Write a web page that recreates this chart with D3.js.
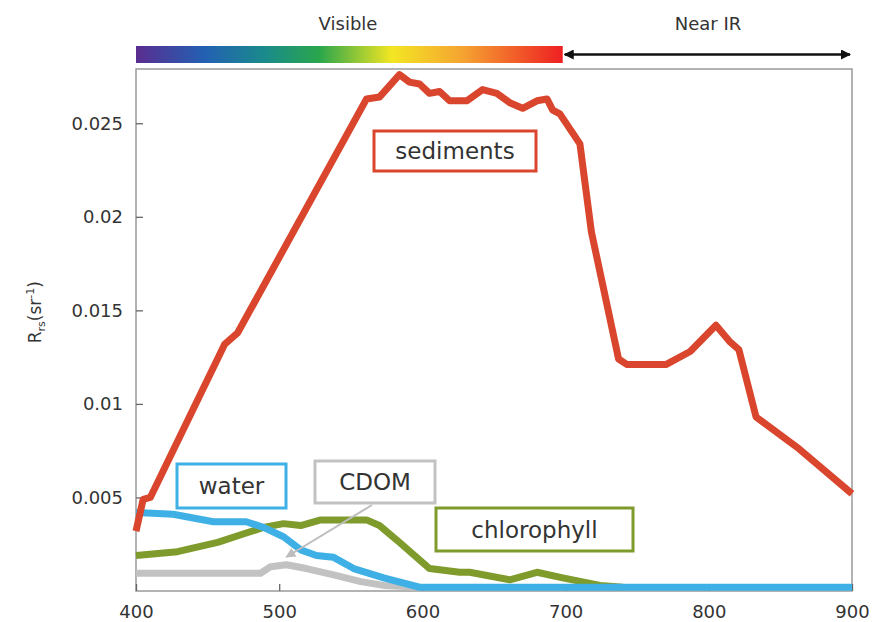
<!DOCTYPE html>
<html>
<head>
<meta charset="utf-8">
<script src="https://cdn.jsdelivr.net/npm/d3@7"></script>
<style>
  body { margin: 0; background: #fff; }
  svg text { font-family: "DejaVu Sans", sans-serif; fill: #333; }
</style>
</head>
<body>
<svg id="chart" width="874" height="622"></svg>
<script>
// Axis ticks
const xTicks = [400, 500, 600, 700, 800, 900];
const yTicks = [0.005, 0.01, 0.015, 0.02, 0.025];

// Sediments spectrum
const sedimentWl = [400, 405, 410, 462, 471, 561, 570, 584, 591, 598, 605, 612, 619, 631, 642, 652, 661, 670, 680, 687, 691, 696, 703, 710, 718, 737, 743, 770, 787, 805, 815, 821, 833, 863, 900];
const sedimentRrs = [0.0032, 0.0049, 0.0050, 0.0132, 0.0138, 0.0263, 0.0264, 0.0276, 0.0272, 0.0271, 0.0266, 0.0267, 0.0262, 0.0262, 0.0268, 0.0266, 0.0261, 0.0258, 0.0262, 0.0263, 0.0257, 0.0255, 0.0247, 0.0239, 0.0192, 0.0124, 0.0121, 0.0121, 0.0128, 0.0142, 0.0133, 0.0129, 0.0093, 0.0076, 0.0052];

// Pure water spectrum
const waterWl = [400, 426, 454, 477, 489, 503, 515, 526, 538, 552, 573, 598, 900];
const waterRrs = [0.0042, 0.0041, 0.0037, 0.0037, 0.0034, 0.0029, 0.0022, 0.0019, 0.0018, 0.0012, 0.0007, 0.0002, 0.0002];

// Chlorophyll spectrum
const chlWl = [400, 429, 457, 477, 489, 503, 515, 529, 561, 570, 584, 605, 626, 633, 661, 680, 698, 724, 740];
const chlRrs = [0.0019, 0.0021, 0.0026, 0.0031, 0.0034, 0.0036, 0.0035, 0.0038, 0.0038, 0.0035, 0.0026, 0.0012, 0.0010, 0.0010, 0.0006, 0.0010, 0.0007, 0.0003, 0.0002];

// CDOM spectrum
const cdomWl = [400, 487, 494, 505, 519, 538, 557, 573, 598];
const cdomRrs = [0.00095, 0.00095, 0.0013, 0.0014, 0.0012, 0.00086, 0.0005, 0.0003, 0.0002];

// Spectrum bar colours (fraction, colour)
const spectrumStops = [[0, "#5a2d90"], [0.16, "#2360b3"], [0.3, "#1a8a8c"], [0.43, "#2aa64c"], [0.6, "#f3e623"], [0.77, "#f5a131"], [1, "#ee1f22"]];

const svg = d3.select("#chart");
const margin = { top: 69, right: 22, bottom: 31, left: 136 };
const width = 874, height = 622;

const x = d3.scaleLinear()
  .domain([400, 900])
  .range([margin.left, width - margin.right]);

const y = d3.scaleLinear()
  .domain([0, 0.0279])
  .range([height - margin.bottom, margin.top]);

// Spectrum bar on top
const defs = svg.append("defs");
const grad = defs.append("linearGradient").attr("id", "spec");
grad.selectAll("stop")
  .data(spectrumStops)
  .join("stop")
  .attr("offset", d => d[0])
  .attr("stop-color", d => d[1]);

svg.append("rect")
  .attr("x", x(400))
  .attr("y", 46)
  .attr("width", x(698) - x(400))
  .attr("height", 17)
  .attr("fill", "url(#spec)");

defs.append("marker")
  .attr("id", "arrowBlack")
  .attr("viewBox", "0 0 10 10")
  .attr("refX", 9).attr("refY", 5)
  .attr("markerWidth", 4).attr("markerHeight", 4)
  .attr("orient", "auto-start-reverse")
  .append("path")
  .attr("d", "M0,0L10,5L0,10z")
  .attr("fill", "#111");

svg.append("line")
  .attr("x1", x(698) + 2).attr("x2", x(900) - 2)
  .attr("y1", 54.5).attr("y2", 54.5)
  .attr("stroke", "#111")
  .attr("stroke-width", 2.5)
  .attr("marker-start", "url(#arrowBlack)")
  .attr("marker-end", "url(#arrowBlack)");

svg.append("text")
  .attr("x", 348).attr("y", 30)
  .attr("text-anchor", "middle")
  .style("font-size", "18px")
  .text("Visible");

svg.append("text")
  .attr("x", 708).attr("y", 30)
  .attr("text-anchor", "middle")
  .style("font-size", "18px")
  .text("Near IR");

// Plot frame
svg.append("rect")
  .attr("x", x(400)).attr("y", y(0.0279))
  .attr("width", x(900) - x(400))
  .attr("height", y(0) - y(0.0279))
  .attr("fill", "none")
  .attr("stroke", "#9a9a9a")
  .attr("stroke-width", 1.5);

// Axes with inward ticks
const yAxis = svg.append("g")
  .attr("transform", `translate(${x(400)},0)`)
  .call(d3.axisLeft(y).tickValues(yTicks).tickSizeInner(-7).tickSizeOuter(0).tickPadding(13)
    .tickFormat(d => String(+d.toFixed(3))));

const xAxis = svg.append("g")
  .attr("transform", `translate(0,${y(0)})`)
  .call(d3.axisBottom(x).tickValues(xTicks).tickSizeInner(-7).tickSizeOuter(0).tickPadding(14));

[xAxis, yAxis].forEach(g => {
  g.select(".domain").remove();
  g.selectAll("line").attr("stroke", "#666").attr("stroke-width", 1.3);
  g.selectAll("text").style("font-size", "18px").style("font-family", "'DejaVu Sans', sans-serif").attr("fill", "#333");
});

// Y axis label
const yLab = svg.append("text")
  .attr("transform", `translate(41,${y(0.0149)}) rotate(-90)`)
  .attr("text-anchor", "middle")
  .style("font-size", "17px");
yLab.append("tspan").text("R");
yLab.append("tspan").attr("dy", 4).style("font-size", "11px").text("rs");
yLab.append("tspan").attr("dy", -4).text("(sr");
yLab.append("tspan").attr("dy", -7).style("font-size", "11px").text("-1");
yLab.append("tspan").attr("dy", 7).text(")");

// Lines
const line = d3.line()
  .x(d => x(d[0]))
  .y(d => y(d[1]));

const series = [
  { wl: cdomWl, v: cdomRrs, color: "#c2c2c2" },
  { wl: chlWl, v: chlRrs, color: "#7f9b2b" },
  { wl: waterWl, v: waterRrs, color: "#3fb0e6" },
  { wl: sedimentWl, v: sedimentRrs, color: "#d9462d" }
];

svg.append("g")
  .selectAll("path")
  .data(series)
  .join("path")
  .attr("d", s => line(d3.zip(s.wl, s.v)))
  .attr("fill", "none")
  .attr("stroke", s => s.color)
  .attr("stroke-width", 7)
  .attr("stroke-linejoin", "round")
  .attr("stroke-linecap", "butt");

// CDOM pointer arrow
defs.append("marker")
  .attr("id", "arrowGrey")
  .attr("viewBox", "0 0 10 10")
  .attr("refX", 9).attr("refY", 5)
  .attr("markerWidth", 5).attr("markerHeight", 5)
  .attr("orient", "auto")
  .append("path")
  .attr("d", "M0,0L10,5L0,10z")
  .attr("fill", "#bdbdbd");

svg.append("line")
  .attr("x1", 372).attr("y1", 505)
  .attr("x2", x(505)).attr("y2", 557)
  .attr("stroke", "#bdbdbd")
  .attr("stroke-width", 2)
  .attr("marker-end", "url(#arrowGrey)");

// Labels in boxes
const labels = [
  { text: "sediments", x: 374, y: 131, w: 162, h: 40, color: "#d9462d" },
  { text: "water", x: 177, y: 464, w: 109, h: 44, color: "#3fb0e6" },
  { text: "CDOM", x: 315, y: 461, w: 120, h: 42, color: "#c2c2c2" },
  { text: "chlorophyll", x: 436, y: 508, w: 197, h: 43, color: "#7f9b2b" }
];

const lab = svg.append("g")
  .selectAll("g")
  .data(labels)
  .join("g");

lab.append("rect")
  .attr("x", d => d.x).attr("y", d => d.y)
  .attr("width", d => d.w).attr("height", d => d.h)
  .attr("fill", "#fff")
  .attr("stroke", d => d.color)
  .attr("stroke-width", 3);

lab.append("text")
  .attr("x", d => d.x + d.w / 2)
  .attr("y", d => d.y + d.h / 2)
  .attr("dy", "0.36em")
  .attr("text-anchor", "middle")
  .style("font-size", "23px")
  .text(d => d.text);
</script>
</body>
</html>
